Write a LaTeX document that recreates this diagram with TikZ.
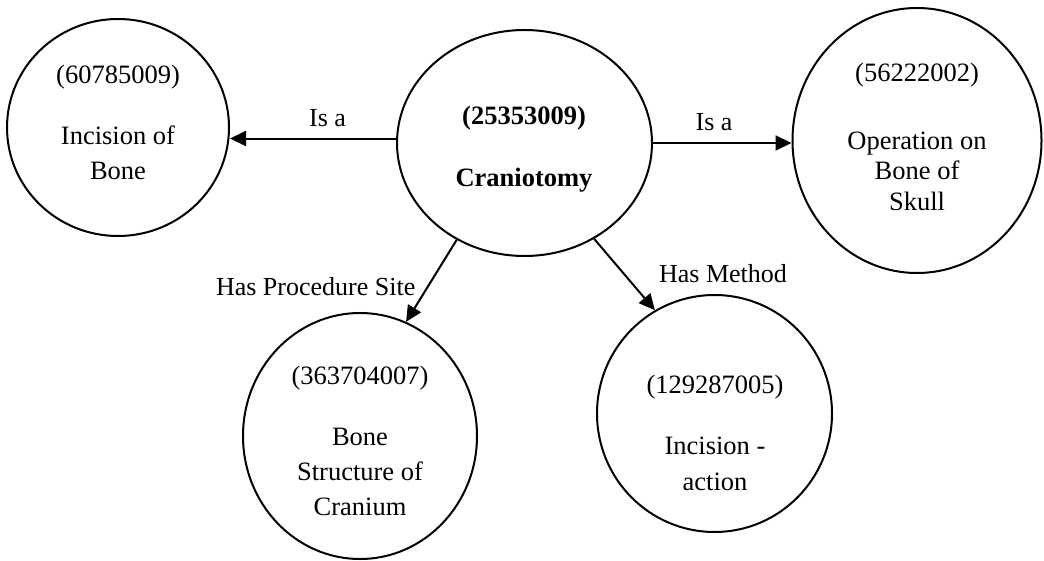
\documentclass[tikz,border=0pt]{standalone}
\usepackage{fontspec}
\setmainfont{Liberation Serif}
\usetikzlibrary{arrows.meta,shapes.geometric}
\begin{document}
\begin{tikzpicture}[x=1pt,y=-1pt,
  concept/.style={draw, line width=2pt, ellipse, inner sep=0pt},
  txt/.style={font=\fontsize{26.5}{30}\selectfont, anchor=base, inner sep=0pt},
  rel/.style={-{Triangle[length=16pt,width=15pt]}, line width=2pt},
  lbl/.style={font=\fontsize{26}{30}\selectfont, anchor=base, inner sep=0pt}]
\useasboundingbox (0,0) rectangle (1044,561);

% concept shapes
\node[concept, minimum width=222pt, minimum height=217pt] (incbone) at (118,127.5) {};
\node[concept, minimum width=255pt, minimum height=226pt] (cranio) at (524.5,143) {};
\node[concept, minimum width=249pt, minimum height=265pt] (opskull) at (917,140.5) {};
\node[concept, minimum width=234pt, minimum height=246pt] (cranium) at (360,436) {};
\node[concept, minimum width=235pt, minimum height=237pt] (action) at (714.5,413.5) {};

% concept texts
\node[txt] (incbone-id) at (118,84) {(60785009)};
\node[txt] (incbone-n1) at (118,145) {Incision of};
\node[txt] (incbone-n2) at (118,180) {Bone};

\node[txt, font=\fontsize{26.5}{30}\selectfont\bfseries] (cranio-id) at (524,125) {(25353009)};
\node[txt, font=\fontsize{26.5}{30}\selectfont\bfseries] (cranio-n1) at (524,187) {Craniotomy};

\node[txt] (opskull-id) at (917,82) {(56222002)};
\node[txt] (opskull-n1) at (917,150) {Operation on};
\node[txt] (opskull-n2) at (917,180) {Bone of};
\node[txt] (opskull-n3) at (917,211) {Skull};

\node[txt] (cranium-id) at (360,384) {(363704007)};
\node[txt] (cranium-n1) at (360,445) {Bone};
\node[txt] (cranium-n2) at (360,480) {Structure of};
\node[txt] (cranium-n3) at (360,515) {Cranium};

\node[txt] (action-id) at (715,393) {(129287005)};
\node[txt] (action-n1) at (715,454) {Incision -};
\node[txt] (action-n2) at (715,490) {action};

% relations
\draw[rel] (cranio.178) -- (cranio.178 -| incbone.east);
\draw[rel] (cranio.east) -- (cranio.east -| opskull.west);
\draw[rel] (cranio.235) -- (cranium.68);
\draw[rel] (cranio.306.6) -- (action.120.7);

% relation labels
\node[lbl] (isa-left) at (327.5,127) {Is a};
\node[lbl] (isa-right) at (714,131) {Is a};
\node[lbl] (site) at (315.7,296) {Has Procedure Site};
\node[lbl] (method) at (723,283) {Has Method};
\end{tikzpicture}
\end{document}
